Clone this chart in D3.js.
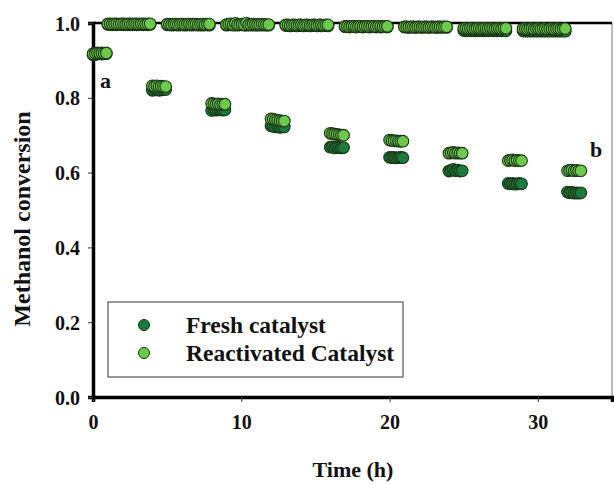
<!DOCTYPE html>
<html>
<head>
<meta charset="utf-8">
<script src="https://cdn.jsdelivr.net/npm/d3@7"></script>
<style>
  html, body { margin: 0; padding: 0; background: #fff; }
  svg { display: block; }
  text { font-family: "Liberation Serif", "Times New Roman", serif; font-weight: bold; fill: #111; }
</style>
</head>
<body>
<svg id="chart" width="614" height="485"></svg>
<script>
// Start of each 4 h operating cycle (h)
const cycleStartH = [0, 4, 8, 12, 16, 20, 24, 28, 32];
// Sampling offsets inside a cycle: the first samples after start-up, then the steady plateau
const dropOffsetsH = [0, 0.15, 0.3, 0.45, 0.6, 0.75, 0.9];
const plateauOffsetsH = [1.0, 1.15, 1.3, 1.45, 1.6, 1.75, 1.9, 2.05, 2.2, 2.35,
                         2.5, 2.65, 2.8, 2.95, 3.1, 3.25, 3.4, 3.55, 3.7, 3.85];

// Methanol conversion right after each start-up (one row per cycle)
const freshDrop = [
  [0.915, 0.916, 0.917, 0.918, 0.917, 0.918, 0.918],
  [0.820, 0.821, 0.822, 0.820, 0.821, 0.822, 0.822],
  [0.766, 0.768, 0.767, 0.769, 0.768, 0.767, 0.768],
  [0.725, 0.724, 0.722, 0.723, 0.721, 0.722, 0.722],
  [0.668, 0.669, 0.666, 0.668, 0.667, 0.666, 0.667],
  [0.641, 0.640, 0.641, 0.639, 0.640, 0.641, 0.640],
  [0.604, 0.606, 0.609, 0.605, 0.607, 0.604, 0.605],
  [0.571, 0.570, 0.571, 0.569, 0.570, 0.571, 0.570],
  [0.548, 0.546, 0.547, 0.545, 0.546, 0.545, 0.546]
];
const reactivatedDrop = [
  [0.918, 0.919, 0.920, 0.919, 0.920, 0.919, 0.920],
  [0.832, 0.831, 0.832, 0.830, 0.831, 0.830, 0.830],
  [0.785, 0.784, 0.783, 0.784, 0.782, 0.783, 0.783],
  [0.744, 0.743, 0.741, 0.740, 0.739, 0.738, 0.738],
  [0.705, 0.704, 0.703, 0.702, 0.701, 0.700, 0.700],
  [0.687, 0.686, 0.685, 0.685, 0.684, 0.684, 0.684],
  [0.652, 0.653, 0.654, 0.652, 0.653, 0.652, 0.652],
  [0.632, 0.633, 0.634, 0.632, 0.633, 0.632, 0.632],
  [0.605, 0.606, 0.607, 0.605, 0.606, 0.605, 0.605]
];

// Methanol conversion on the plateau of each cycle (cycles 1-8)
const freshPlateau = [
  [0.996, 0.996, 0.995, 0.996, 0.995, 0.996, 0.996, 0.995, 0.996, 0.995, 0.996, 0.995, 0.996, 0.995, 0.996, 0.996, 0.995, 0.996, 0.995, 0.996],
  [0.995, 0.995, 0.994, 0.995, 0.995, 0.994, 0.995, 0.995, 0.994, 0.995, 0.995, 0.994, 0.995, 0.995, 0.994, 0.995, 0.994, 0.995, 0.995, 0.994],
  [0.994, 0.995, 0.996, 0.994, 0.997, 0.994, 0.995, 0.996, 0.994, 0.994, 0.995, 0.994, 0.995, 0.994, 0.994, 0.995, 0.994, 0.995, 0.994, 0.994],
  [0.993, 0.993, 0.992, 0.993, 0.993, 0.992, 0.993, 0.993, 0.992, 0.993, 0.993, 0.992, 0.993, 0.993, 0.992, 0.993, 0.992, 0.993, 0.993, 0.992],
  [0.990, 0.990, 0.989, 0.990, 0.990, 0.989, 0.990, 0.990, 0.989, 0.990, 0.990, 0.989, 0.990, 0.990, 0.989, 0.990, 0.989, 0.990, 0.990, 0.989],
  [0.989, 0.989, 0.988, 0.989, 0.989, 0.988, 0.989, 0.989, 0.988, 0.989, 0.989, 0.988, 0.989, 0.989, 0.988, 0.989, 0.988, 0.989, 0.989, 0.988],
  [0.980, 0.979, 0.980, 0.979, 0.980, 0.979, 0.980, 0.979, 0.980, 0.979, 0.980, 0.979, 0.980, 0.979, 0.980, 0.979, 0.980, 0.979, 0.980, 0.979],
  [0.979, 0.978, 0.979, 0.978, 0.979, 0.978, 0.979, 0.978, 0.979, 0.978, 0.979, 0.978, 0.979, 0.978, 0.979, 0.978, 0.979, 0.978, 0.979, 0.978]
];
const reactivatedPlateau = [
  [0.998, 0.998, 0.997, 0.998, 0.998, 0.997, 0.998, 0.998, 0.997, 0.998, 0.998, 0.997, 0.998, 0.998, 0.997, 0.998, 0.998, 0.997, 0.998, 0.998],
  [0.997, 0.997, 0.996, 0.997, 0.997, 0.996, 0.997, 0.997, 0.996, 0.997, 0.997, 0.996, 0.997, 0.997, 0.996, 0.997, 0.997, 0.996, 0.997, 0.997],
  [0.996, 0.997, 0.998, 0.996, 0.999, 0.996, 0.996, 0.997, 0.996, 1.000, 0.996, 0.996, 0.997, 0.996, 0.996, 0.996, 0.997, 0.996, 0.996, 0.996],
  [0.995, 0.995, 0.994, 0.995, 0.995, 0.994, 0.995, 0.995, 0.994, 0.995, 0.995, 0.994, 0.995, 0.995, 0.994, 0.995, 0.995, 0.994, 0.995, 0.995],
  [0.991, 0.991, 0.990, 0.991, 0.991, 0.990, 0.991, 0.991, 0.990, 0.991, 0.991, 0.990, 0.991, 0.991, 0.990, 0.991, 0.991, 0.990, 0.991, 0.991],
  [0.990, 0.990, 0.989, 0.990, 0.990, 0.989, 0.990, 0.990, 0.989, 0.990, 0.990, 0.989, 0.990, 0.990, 0.989, 0.990, 0.990, 0.989, 0.990, 0.990],
  [0.986, 0.986, 0.985, 0.986, 0.986, 0.985, 0.986, 0.986, 0.985, 0.986, 0.986, 0.985, 0.986, 0.986, 0.985, 0.986, 0.986, 0.985, 0.986, 0.986],
  [0.985, 0.985, 0.984, 0.985, 0.985, 0.984, 0.985, 0.985, 0.984, 0.985, 0.985, 0.984, 0.985, 0.985, 0.984, 0.985, 0.985, 0.984, 0.985, 0.985]
];

const xTicks = [0, 10, 20, 30];
const yTicks = [0.0, 0.2, 0.4, 0.6, 0.8, 1.0];
const seriesNames = ["Fresh catalyst", "Reactivated Catalyst"];
const seriesColors = ["#1b7a3d", "#6dc94c"];

// Flatten one series into {t, v} points, cycle by cycle
function buildSeries(drop, plateau) {
  const pts = [];
  cycleStartH.forEach((t0, i) => {
    dropOffsetsH.forEach((dt, j) => pts.push({ t: t0 + dt, v: drop[i][j] }));
    if (plateau[i]) {
      plateauOffsetsH.forEach((dt, j) => pts.push({ t: t0 + dt, v: plateau[i][j] }));
    }
  });
  return pts;
}
const series = [
  buildSeries(freshDrop, freshPlateau),
  buildSeries(reactivatedDrop, reactivatedPlateau)
];

const margin = { left: 93, right: 2, top: 23, bottom: 88 };
const W = 614, H = 485;
const svg = d3.select("#chart");

const x = d3.scaleLinear().domain([0, 35]).range([margin.left, W - margin.right]);
const y = d3.scaleLinear().domain([0, 1]).range([H - margin.bottom, margin.top]);

// Frame: thin right edge, heavier top edge
svg.append("line")
  .attr("x1", x(35)).attr("x2", x(35)).attr("y1", y(1)).attr("y2", y(0))
  .attr("stroke", "#777").attr("stroke-width", 1);
svg.append("line")
  .attr("x1", x(0)).attr("x2", x(35)).attr("y1", y(1)).attr("y2", y(1))
  .attr("stroke", "#000").attr("stroke-width", 2.5);

// Axes
const xAxis = d3.axisBottom(x).tickValues(xTicks).tickSize(5).tickPadding(8).tickFormat(d3.format("d"));
const yAxis = d3.axisLeft(y).tickValues(yTicks).tickSize(5).tickPadding(8).tickFormat(d3.format(".1f"));

const gx = svg.append("g").attr("transform", `translate(0,${y(0)})`).call(xAxis);
const gy = svg.append("g").attr("transform", `translate(${x(0)},0)`).call(yAxis);
[gx, gy].forEach(g => {
  g.select(".domain").attr("stroke", "#000").attr("stroke-width", 3.5);
  g.selectAll(".tick line").attr("stroke", "#333").attr("stroke-width", 1);
  g.selectAll(".tick text")
    .attr("font-family", "'Liberation Serif', serif")
    .attr("font-weight", "bold")
    .attr("font-size", 20)
    .attr("fill", "#111");
});
gx.selectAll(".tick text").attr("dy", "0.95em");
gy.selectAll(".tick text").attr("dy", "0.35em");

// Axis titles
svg.append("text")
  .attr("x", 353).attr("y", 477)
  .attr("text-anchor", "middle").attr("font-size", 22)
  .text("Time (h)");
svg.append("text")
  .attr("transform", `translate(30,${(y(0) + y(1)) / 2 + 9}) rotate(-90)`)
  .attr("text-anchor", "middle").attr("font-size", 24)
  .text("Methanol conversion");

// Points: fresh first, reactivated drawn over it
series.forEach((pts, k) => {
  svg.append("g").selectAll("circle").data(pts).join("circle")
    .attr("cx", d => x(d.t))
    .attr("cy", d => y(d.v))
    .attr("r", 5.8)
    .attr("fill", seriesColors[k])
    .attr("stroke", "#1a3614")
    .attr("stroke-width", 1.1);
});

// Panel letters
svg.append("text").attr("x", 100).attr("y", 88).attr("font-size", 22).text("a");
svg.append("text").attr("x", 590).attr("y", 157).attr("font-size", 22).text("b");

// Legend
const lg = svg.append("g");
lg.append("rect")
  .attr("x", 108).attr("y", 302).attr("width", 295).attr("height", 75)
  .attr("fill", "#fff").attr("stroke", "#555").attr("stroke-width", 1.2);
seriesNames.forEach((name, i) => {
  const cy = 325 + i * 28;
  lg.append("circle")
    .attr("cx", 144).attr("cy", cy).attr("r", 5.5)
    .attr("fill", seriesColors[i]).attr("stroke", "#1a3614").attr("stroke-width", 1);
  lg.append("text")
    .attr("x", 186).attr("y", cy).attr("dy", "0.35em")
    .attr("font-size", 23.5).text(name);
});
</script>
</body>
</html>
